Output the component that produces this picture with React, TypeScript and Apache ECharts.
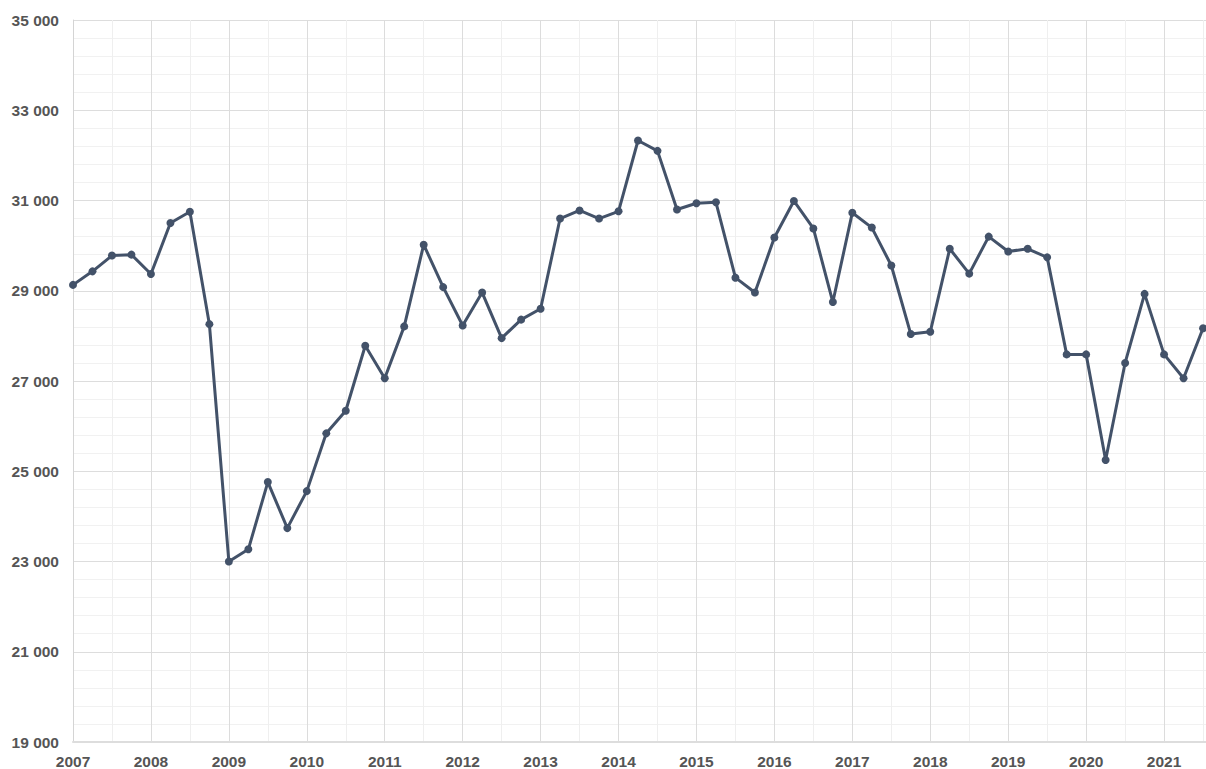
import React, { useEffect, useRef } from "react";
import * as echarts from "echarts";

const periods: number[] = [
  2007.0, 2007.25, 2007.5, 2007.75,
  2008.0, 2008.25, 2008.5, 2008.75,
  2009.0, 2009.25, 2009.5, 2009.75,
  2010.0, 2010.25, 2010.5, 2010.75,
  2011.0, 2011.25, 2011.5, 2011.75,
  2012.0, 2012.25, 2012.5, 2012.75,
  2013.0, 2013.25, 2013.5, 2013.75,
  2014.0, 2014.25, 2014.5, 2014.75,
  2015.0, 2015.25, 2015.5, 2015.75,
  2016.0, 2016.25, 2016.5, 2016.75,
  2017.0, 2017.25, 2017.5, 2017.75,
  2018.0, 2018.25, 2018.5, 2018.75,
  2019.0, 2019.25, 2019.5, 2019.75,
  2020.0, 2020.25, 2020.5, 2020.75,
  2021.0, 2021.25, 2021.5,
];

const values: number[] = [
  29130, 29430, 29780, 29800,
  29370, 30500, 30750, 28260,
  23000, 23270, 24760, 23740,
  24560, 25840, 26340, 27780,
  27060, 28210, 30020, 29080,
  28230, 28960, 27950, 28360,
  28600, 30600, 30780, 30600,
  30760, 32330, 32100, 30800,
  30940, 30960, 29290, 28960,
  30180, 30990, 30380, 28750,
  30730, 30400, 29560, 28040,
  28090, 29930, 29380, 30200,
  29870, 29930, 29740, 27590,
  27590, 25250, 27400, 28930,
  27590, 27060, 28170,
];

const yMin = 19000;
const yMax = 35000;
const yStep = 2000;
const xMin = 2007;
const xMax = 2022;

const fmtThousands = (v: number) =>
  String(Math.round(v)).replace(/\B(?=(\d{3})+(?!\d))/g, " ");

export default function App() {
  const ref = useRef<HTMLDivElement>(null);

  useEffect(() => {
    document.body.style.margin = "0";
    if (!ref.current) return;
    const chart = echarts.init(ref.current, undefined, { renderer: "svg" });
    const data = periods.map((p, i) => [p, values[i]]);
    chart.setOption({
      animation: false,
      backgroundColor: "#ffffff",
      grid: { left: 73, right: 0, top: 20, bottom: 27, containLabel: false },
      xAxis: {
        type: "value",
        min: xMin,
        max: xMax,
        interval: 1,
        axisLine: { show: true, lineStyle: { color: "#dddddd", width: 2 } },
        axisTick: { show: false },
        axisLabel: {
          color: "#555555",
          fontWeight: "bold",
          fontSize: 15.5,
          fontFamily: "Liberation Sans, Arial, sans-serif",
          margin: 11,
          formatter: (v: number) => (Number.isInteger(v) && v < xMax ? String(v) : ""),
        },
        splitLine: { show: true, lineStyle: { color: "#dcdcdc", width: 1 } },
        minorTick: { show: false, splitNumber: 2 },
        minorSplitLine: { show: true, lineStyle: { color: "#efefef", width: 1 } },
      },
      yAxis: {
        type: "value",
        min: yMin,
        max: yMax,
        interval: yStep,
        axisLine: { show: true, lineStyle: { color: "#d4d4d4", width: 1 } },
        axisTick: { show: false },
        axisLabel: {
          color: "#555555",
          fontWeight: "bold",
          fontSize: 15.5,
          fontFamily: "Liberation Sans, Arial, sans-serif",
          margin: 14,
          formatter: (v: number) => fmtThousands(v),
        },
        splitLine: { show: true, lineStyle: { color: "#dddddd", width: 1 } },
        minorTick: { show: false, splitNumber: 5 },
        minorSplitLine: { show: true, lineStyle: { color: "#f1f1f1", width: 1 } },
      },
      series: [
        {
          type: "line",
          data,
          symbol: "circle",
          symbolSize: 8,
          showSymbol: true,
          clip: false,
          lineStyle: { color: "#435269", width: 3 },
          itemStyle: { color: "#435269" },
        },
      ],
    });
    return () => chart.dispose();
  }, []);

  return (
    <div
      style={{
        position: "absolute",
        left: 0,
        top: 0,
        width: 1206,
        height: 769,
        overflow: "hidden",
      }}
    >
      <div ref={ref} style={{ width: 1245, height: 769 }} />
    </div>
  );
}
